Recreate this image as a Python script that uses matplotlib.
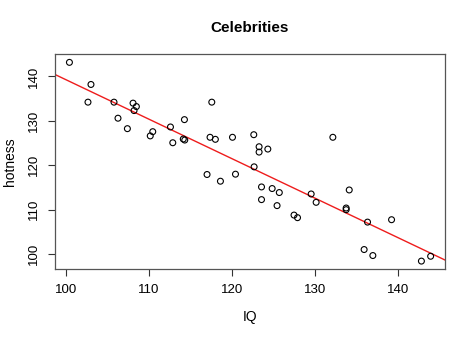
import numpy as np
import matplotlib
matplotlib.use("Agg")
import matplotlib.pyplot as plt

plt.rcParams['font.family'] = ['Liberation Sans', 'DejaVu Sans']

iq = [100.45, 103.04, 102.68, 105.81, 106.29, 107.42, 108.10, 108.50, 108.22,
      110.17, 110.47, 112.60, 112.88, 114.28, 114.14, 114.32, 117.57, 117.36,
      118.00, 120.06, 122.62, 123.26, 123.26, 124.31, 122.66, 117.00, 118.61,
      120.42, 123.55, 124.83, 125.69, 123.55, 125.42, 127.46, 127.88, 132.13,
      129.52, 130.12, 134.10, 133.73, 133.73, 136.30, 139.19, 135.89, 136.94,
      142.78, 143.89]
hotness = [143.16, 138.19, 134.21, 134.21, 130.60, 128.25, 133.99, 133.22, 132.32,
           126.62, 127.57, 128.63, 125.08, 130.28, 125.92, 125.69, 134.21, 126.31,
           125.85, 126.31, 126.89, 124.18, 122.98, 123.66, 119.66, 117.94, 116.43,
           118.01, 115.14, 114.78, 113.88, 112.29, 110.94, 108.81, 108.23, 126.31,
           113.56, 111.68, 114.46, 110.40, 110.03, 107.23, 107.77, 101.06, 99.71,
           98.46, 99.55]
xticks = [100, 110, 120, 130, 140]
yticks = [100, 110, 120, 130, 140]

fig = plt.figure(figsize=(4.74, 3.38), dpi=100)
ax = fig.add_axes([0.116, 0.204, 0.823, 0.635])

x = np.array(iq)
y = np.array(hotness)
ax.scatter(x, y, s=18, facecolors="none", edgecolors="black", linewidths=0.8, zorder=3)

xmin, xmax = x.min(), x.max()
ymin, ymax = y.min(), y.max()
dx = (xmax - xmin) * 0.04
dy = (ymax - ymin) * 0.04
ax.set_xlim(xmin - dx, xmax + dx)
ax.set_ylim(ymin - dy, ymax + dy)

b, a = np.polyfit(x, y, 1)
xl = np.array(ax.get_xlim())
ax.plot(xl, a + b * xl, color="#ee1c1c", lw=1.0, zorder=2)

ax.set_xticks(xticks)
ax.set_yticks(yticks)
ax.set_yticklabels([str(v) for v in yticks], rotation=90, va="center")
ax.tick_params(direction="out", length=5, width=0.8, labelsize=9.5, color="#333333", pad=6)
for s in ax.spines.values():
    s.set_color("#555555")
    s.set_linewidth(0.9)

ax.set_title("Celebrities", fontsize=11, fontweight="bold", pad=16)
ax.set_xlabel("IQ", fontsize=10, labelpad=10)
ax.set_ylabel("hotness", fontsize=10, labelpad=8)

fig.savefig("out.png", dpi=100)
